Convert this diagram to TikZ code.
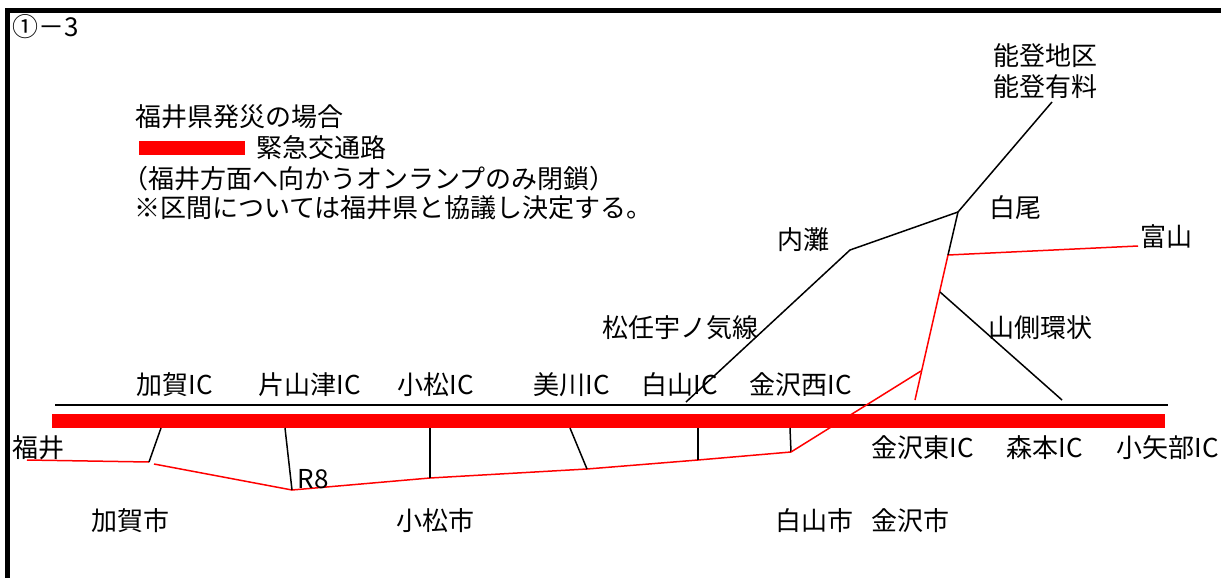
\documentclass[tikz,border=0pt]{standalone}
\usepackage{fontspec}
\setmainfont{Noto Sans CJK JP}
\usepackage{tikz}
\tikzstyle{lbl}=[inner sep=0pt,font=\fontsize{26}{31}\selectfont]
\tikzstyle{lbw}=[lbl,anchor=west]
\tikzstyle{rd}=[line width=1.5pt,red]
\tikzstyle{bk}=[line width=1.5pt,black]
\tikzstyle{hw}=[line width=14pt,red]
\begin{document}
\begin{tikzpicture}[x=1pt,y=-1pt]
	\useasboundingbox (0,0) rectangle (1221,578);
	\draw[line width=5pt] (7.5,578) -- (7.5,10.5) -- (1221,10.5);
	\node[lbw] (ttl) at (12,27) {①－3};
	% legend
	\node[lbw] (lg1) at (135,117) {福井県発災の場合};
	\coordinate (bar0) at (139,148);
	\coordinate (bar1) at (245,148);
	\draw[hw] (bar0) -- (bar1);
	\node[lbw] (lg2) at (256,148) {緊急交通路};
	\node[lbw] (lg3) at (122,179) {（福井方面へ向かうオンランプのみ閉鎖）};
	\node[lbw] (lg4) at (134,208) {※区間については福井県と協議し決定する。};
	% expressway
	\coordinate (w0) at (55,405);
	\coordinate (w1) at (1168,405);
	\draw[bk] (w0) -- (w1);
	\coordinate (e0) at (52,421);
	\coordinate (e1) at (1165,421);
	\draw[hw] (e0) -- (e1);
	% R8
	\coordinate (f0) at (27,460);
	\coordinate (k1) at (149,462);
	\coordinate (k2) at (154,464);
	\coordinate (r8) at (292,490);
	\coordinate (km) at (430,478);
	\coordinate (mk) at (587,469);
	\coordinate (hk) at (698,460);
	\coordinate (ks) at (791,452);
	\draw[rd] (f0) -- (k1);
	\draw[rd] (k2) -- (r8) -- (km) -- (mk) -- (hk) -- (ks);
	% ramps
	\coordinate (kga) at (161,428);
	\coordinate (kty) at (285,428);
	\coordinate (kmt) at (430,428);
	\coordinate (mkw) at (570,428);
	\coordinate (hsn) at (698,428);
	\coordinate (ksw) at (790,428);
	\draw[bk] (kga) -- (k1);
	\draw[bk] (kty) -- (r8);
	\draw[bk] (kmt) -- (km);
	\draw[bk] (mkw) -- (mk);
	\draw[bk] (hsn) -- (hk);
	\draw[bk] (ksw) -- (ks);
	% north side
	\coordinate (kh) at (921,371);
	\coordinate (kh0) at (915,400);
	\coordinate (tj) at (948,255);
	\coordinate (sj) at (958,212);
	\coordinate (uj) at (850,250);
	\coordinate (u0) at (686,402);
	\coordinate (nt) at (1052,102);
	\coordinate (ty) at (1138,246);
	\coordinate (yj) at (940,292);
	\coordinate (y0) at (1062,400);
	\draw[rd] (ks) -- (kh);
	\draw[rd] (kh0) -- (tj) -- (ty);
	\draw[bk] (tj) -- (sj) -- (nt);
	\draw[bk] (u0) -- (uj) -- (sj);
	\draw[bk] (yj) -- (y0);
	% labels
	\node[lbl,align=center] (noto) at (1045,71) {能登地区\\能登有料};
	\node[lbl] (shiro) at (1015,208) {白尾};
	\node[lbl] (uchi) at (803,240) {内灘};
	\node[lbl] (toya) at (1166,237) {富山};
	\node[lbl] (matto) at (680,328) {松任宇ノ気線};
	\node[lbl] (yama) at (1040,328) {山側環状};
	\node[lbl] (icka) at (175,385) {加賀IC};
	\node[lbl] (icky) at (310,385) {片山津IC};
	\node[lbl] (icko) at (436,385) {小松IC};
	\node[lbl] (icmi) at (572,385) {美川IC};
	\node[lbl] (icha) at (680,385) {白山IC};
	\node[lbl] (icks) at (801,385) {金沢西IC};
	\node[lbw] (fukui) at (12,448) {福井};
	\node[lbl] (icke) at (923,448) {金沢東IC};
	\node[lbl] (icmo) at (1045,448) {森本IC};
	\node[lbl] (icoy) at (1168,448) {小矢部IC};
	\node[lbl] (rt8) at (313,479) {R8};
	\node[lbl] (ckag) at (130,521) {加賀市};
	\node[lbl] (ckom) at (435,521) {小松市};
	\node[lbl] (chak) at (814,521) {白山市};
	\node[lbl] (ckan) at (910,521) {金沢市};
\end{tikzpicture}
\end{document}
